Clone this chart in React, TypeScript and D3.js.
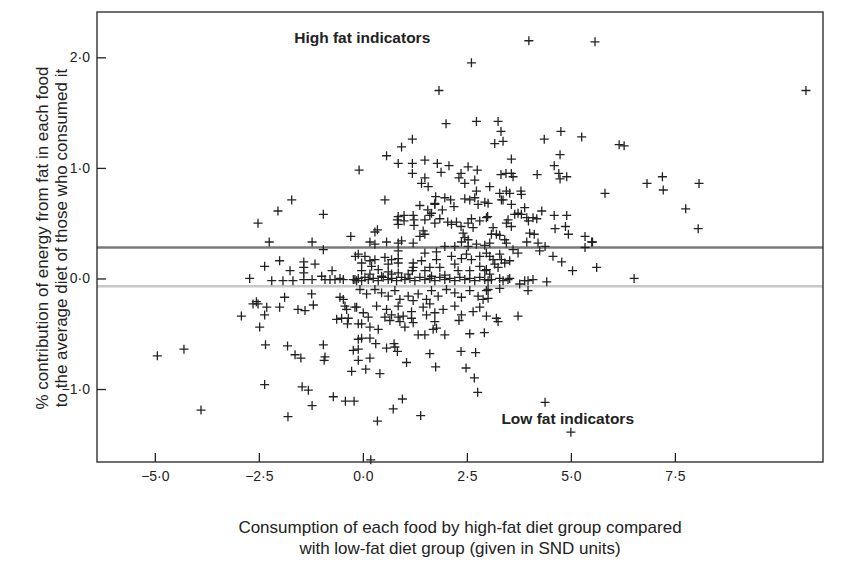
import { useRef, useEffect } from "react";
import * as d3 from "d3";

type Pt = [number, number];

// far points and outliers
const outerPoints: Pt[] = [
  [3.99, 2.15], [5.58, 2.14], [2.61, 1.95], [1.83, 1.7], [10.65, 1.7],
  [6.16, 1.21], [6.28, 1.2], [5.82, 0.77], [6.83, 0.86], [7.2, 0.92], [7.22, 0.8],
  [8.08, 0.86], [7.76, 0.63], [8.06, 0.45], [5.52, 0.33], [5.62, 0.1], [6.52, 0.0],
  [-4.94, -0.7], [-4.3, -0.64], [-3.89, -1.19], [4.38, -1.12], [5.0, -1.39],
  [-0.09, 0.98], [-1.71, 0.71], [0.19, -1.64],
];

// upper cloud (above ~0.6)
const upperPoints: Pt[] = [
  [2.0, 1.4], [2.73, 1.42], [1.19, 1.26], [0.93, 1.19], [0.57, 1.11], [0.85, 1.04],
  [1.19, 1.04], [1.19, 0.95], [1.49, 1.07], [1.79, 1.04], [2.07, 1.02], [1.88, 0.96],
  [2.53, 1.01], [2.75, 0.98], [2.36, 0.95], [2.31, 0.91], [2.45, 0.86], [2.69, 0.89],
  [2.73, 0.79], [1.49, 0.91], [1.41, 0.86], [1.57, 0.83], [0.53, 0.71], [1.75, 0.74],
  [1.97, 0.73], [2.11, 0.71], [2.45, 0.72], [2.57, 0.71], [2.69, 0.73], [1.73, 0.68],
  [3.25, 1.42], [3.32, 1.33], [3.17, 1.22], [3.37, 1.24], [4.36, 1.26], [4.76, 1.33],
  [5.26, 1.28], [3.57, 1.08], [4.74, 1.12], [4.6, 1.02], [3.32, 0.94], [3.44, 0.95],
  [3.57, 0.95], [3.61, 0.92], [4.19, 0.94], [4.71, 0.95], [4.74, 0.9], [4.9, 0.92],
  [3.05, 0.83], [3.29, 0.77], [3.45, 0.79], [3.53, 0.77], [3.8, 0.79], [3.81, 0.76],
  [3.37, 0.71], [3.01, 0.68], [3.33, 0.71], [3.57, 0.67], [3.89, 0.64],
  [1.37, 0.66], [1.73, 0.67], [1.56, 0.62], [1.65, 0.59], [1.61, 0.57], [1.91, 0.62],
  [2.19, 0.65], [2.77, 0.67], [2.93, 0.69], [-2.04, 0.61], [-0.95, 0.58],
];

// middle band (between ~0.6 and 0.0)
const middlePoints: Pt[] = [
  [-2.52, 0.5], [-0.29, 0.38], [-2.25, 0.33], [-1.22, 0.33], [-0.95, 0.26], [-0.18, 0.2],
  [-2.0, 0.16], [-2.36, 0.11], [-1.42, 0.15], [-1.15, 0.13], [-1.42, 0.1], [-1.42, 0.05],
  [-1.75, 0.07], [-0.74, 0.07],
  [3.0, 0.56], [3.65, 0.58], [3.73, 0.59], [3.81, 0.58], [3.94, 0.55], [3.98, 0.52],
  [4.09, 0.55], [4.18, 0.54], [4.3, 0.61], [3.49, 0.53], [3.45, 0.5], [3.57, 0.47],
  [4.6, 0.57], [4.9, 0.57], [4.62, 0.45], [4.87, 0.47], [4.94, 0.4], [3.13, 0.46],
  [3.09, 0.4], [3.21, 0.4], [3.29, 0.39], [4.01, 0.41], [4.12, 0.4], [5.34, 0.38],
  [5.5, 0.33], [5.34, 0.28], [3.41, 0.35], [3.45, 0.32], [3.05, 0.32], [3.94, 0.33],
  [4.21, 0.32], [4.38, 0.29], [3.61, 0.26], [3.73, 0.23], [4.25, 0.25], [4.57, 0.2],
  [4.78, 0.15], [5.04, 0.07], [3.05, 0.2], [3.29, 0.22], [3.33, 0.17], [3.13, 0.17],
  [3.17, 0.13], [3.41, 0.14], [3.53, 0.16], [2.97, 0.08], [3.25, 0.1], [3.05, 0.04],
  [0.85, 0.56], [0.99, 0.57], [0.83, 0.53], [0.99, 0.52], [0.85, 0.49], [1.21, 0.57],
  [1.23, 0.53], [1.23, 0.48], [1.49, 0.53], [1.85, 0.54], [1.73, 0.5], [2.13, 0.49],
  [2.04, 0.51], [2.25, 0.51], [2.36, 0.47], [2.53, 0.5], [2.65, 0.46], [2.81, 0.52],
  [2.61, 0.54], [2.97, 0.55], [0.35, 0.44], [0.29, 0.42], [1.45, 0.43], [1.49, 0.4],
  [1.37, 0.38], [2.41, 0.41], [2.45, 0.37], [2.53, 0.35], [2.37, 0.33], [0.17, 0.33],
  [0.57, 0.33], [0.85, 0.32], [0.93, 0.34], [1.21, 0.32], [0.29, 0.31], [1.97, 0.29],
  [2.21, 0.29], [2.53, 0.29], [2.73, 0.31], [2.93, 0.3],
  [-0.11, 0.22], [0.05, 0.2], [-0.03, 0.14], [0.17, 0.16], [0.21, 0.11], [0.37, 0.08],
  [0.29, 0.17], [0.53, 0.19], [0.69, 0.17], [0.85, 0.18], [0.61, 0.13], [0.85, 0.14],
  [0.85, 0.25], [1.49, 0.23], [1.77, 0.24], [1.41, 0.16], [1.21, 0.14], [1.21, 0.1],
  [1.19, 0.07], [1.49, 0.07], [1.61, 0.1], [1.77, 0.17], [1.85, 0.1], [2.13, 0.2],
  [2.21, 0.13], [2.37, 0.18], [2.49, 0.22], [2.61, 0.17], [2.81, 0.2], [2.97, 0.23],
  [2.29, 0.07], [2.57, 0.07], [2.81, 0.11], [2.93, 0.07],
  [0.69, 0.04], [1.09, 0.04], [1.65, 0.02], [1.97, 0.03], [-0.03, 0.07], [0.17, 0.04],
  [0.45, 0.02], [0.61, 0.06], [0.85, 0.05],
];

// the dense strip round zero
const zeroPoints: Pt[] = [
  [-2.72, 0.0], [-2.19, -0.02], [-1.92, -0.02], [-1.68, -0.02], [-1.42, -0.01],
  [-1.22, -0.01], [-0.99, 0.02], [-0.91, -0.01], [-0.79, -0.01], [-0.67, -0.01],
  [-0.55, 0.0], [-0.47, -0.01], [-0.23, -0.01], [-0.15, -0.02],
  [-0.19, -0.01], [-0.11, 0.0], [-0.03, -0.02], [0.05, 0.01], [0.13, -0.01], [0.25, 0.0],
  [0.37, -0.02], [0.49, 0.01], [0.61, -0.01], [0.69, 0.0], [0.81, -0.02], [0.93, 0.01],
  [1.01, -0.01], [1.13, 0.0], [1.25, -0.02], [1.37, 0.01], [1.49, -0.01], [1.61, 0.0],
  [1.73, -0.02], [1.85, 0.01], [1.97, -0.01], [2.09, 0.0], [2.21, -0.02], [2.33, 0.01],
  [2.45, -0.01], [2.57, 0.0], [2.69, -0.02], [2.81, 0.01], [2.93, -0.01],
  [3.09, -0.01], [3.01, -0.02], [3.29, 0.0], [3.37, -0.02], [3.49, -0.01], [3.53, 0.0],
  [3.77, -0.05], [3.89, -0.02], [3.97, -0.02], [4.09, -0.01], [4.42, -0.03],
];

// lower cloud (below zero)
const lowerPoints: Pt[] = [
  [3.01, -0.1], [3.29, -0.09], [3.97, -0.11], [3.01, -0.18],
  [-0.07, -0.1], [0.09, -0.14], [0.29, -0.1], [0.45, -0.13], [0.61, -0.16], [0.77, -0.11],
  [0.89, -0.19], [1.09, -0.16], [1.21, -0.2], [1.33, -0.14], [1.53, -0.19], [1.65, -0.11],
  [1.81, -0.16], [2.01, -0.1], [2.21, -0.13], [2.37, -0.17], [2.57, -0.11], [2.77, -0.16],
  [2.89, -0.19], [2.97, -0.11],
  [-0.15, -0.26], [0.01, -0.31], [0.33, -0.25], [0.57, -0.28], [0.69, -0.33], [0.85, -0.25],
  [0.97, -0.34], [1.17, -0.3], [1.45, -0.26], [1.53, -0.33], [1.61, -0.23], [1.73, -0.31],
  [1.93, -0.28], [2.21, -0.25], [2.37, -0.33], [2.65, -0.3], [2.81, -0.26], [2.97, -0.34],
  [-1.88, -0.17], [-1.23, -0.14], [-2.56, -0.21], [-2.64, -0.23], [-2.52, -0.23],
  [-2.31, -0.26], [-2.0, -0.26], [-0.55, -0.17], [-0.47, -0.19], [-1.19, -0.24],
  [-1.56, -0.28], [-1.39, -0.29], [-0.43, -0.25], [-0.39, -0.28], [-0.19, -0.26],
  [-2.92, -0.34], [-2.36, -0.33], [-0.51, -0.36], [-0.35, -0.36],
  [-2.48, -0.44], [-0.63, -0.37], [-0.37, -0.41], [-0.11, -0.41], [-2.34, -0.6],
  [-1.81, -0.61], [-0.95, -0.6], [-1.63, -0.69], [-1.49, -0.72], [-0.91, -0.71],
  [-0.93, -0.74], [-0.23, -0.65], [-0.11, -0.64], [-0.11, -0.74], [-0.11, -0.55],
  [-0.27, -0.84], [-2.36, -0.96], [-1.46, -0.98], [-1.31, -1.01], [-1.22, -1.15],
  [-0.71, -1.07], [-0.42, -1.11], [-0.21, -1.11], [-1.8, -1.25],
  [0.13, -0.35], [-0.03, -0.41], [0.17, -0.44], [0.37, -0.46], [0.53, -0.35], [0.65, -0.38],
  [0.85, -0.35], [0.89, -0.39], [1.17, -0.36], [1.21, -0.4], [1.01, -0.44], [1.73, -0.39],
  [1.77, -0.45], [1.69, -0.46], [1.33, -0.51], [1.49, -0.51], [1.97, -0.51], [2.31, -0.38],
  [2.57, -0.5], [2.92, -0.49], [-0.03, -0.54], [0.17, -0.54], [0.31, -0.59], [0.57, -0.63],
  [0.75, -0.59], [0.77, -0.62], [0.83, -0.66], [0.17, -0.72], [0.07, -0.82], [0.41, -0.86],
  [1.05, -0.76], [1.61, -0.68], [1.75, -0.8], [2.36, -0.66], [2.71, -0.67], [2.48, -0.81],
  [2.68, -0.9], [2.76, -1.03], [0.95, -1.09], [0.73, -1.18], [0.35, -1.29], [1.39, -1.24],
  [3.21, -0.36], [3.25, -0.39], [3.73, -0.34],
];

const refLines = [
  { value: 0.28, color: "#7a7a7a", width: 2.5 },
  { value: -0.07, color: "#c8c8c8", width: 2.5 },
];

const xTicks = [-5, -2.5, 0, 2.5, 5, 7.5];
const yTicks = [-1, 0, 1, 2];

const xLabel = [
  "Consumption of each food by high-fat diet group compared",
  "with low-fat diet group (given in SND units)",
];
const yLabel = [
  "% contribution of energy from fat in each food",
  "to the average diet of those who consumed it",
];

const fmt = (v: number) => d3.format(".1f")(v).replace(".", "·").replace("-", "−");

const App = () => {
  const svgRef = useRef<SVGSVGElement>(null);

  useEffect(() => {
    const svg = d3.select(svgRef.current);
    svg.selectAll("*").remove();

    const width = 853;
    const height = 564;
    const margin = { top: 12, right: 30, bottom: 102, left: 97 };
    const font = "'Liberation Sans', Arial, sans-serif";

    const x = d3
      .scaleLinear()
      .domain([-6.39, 11.06])
      .range([margin.left, width - margin.right]);
    const y = d3
      .scaleLinear()
      .domain([-1.66, 2.41])
      .range([height - margin.bottom, margin.top]);

    // reference lines
    refLines.forEach((r) => {
      svg
        .append("line")
        .attr("x1", margin.left)
        .attr("x2", width - margin.right)
        .attr("y1", y(r.value))
        .attr("y2", y(r.value))
        .attr("stroke", r.color)
        .attr("stroke-width", r.width);
    });

    // frame
    svg
      .append("rect")
      .attr("x", margin.left)
      .attr("y", margin.top)
      .attr("width", width - margin.left - margin.right)
      .attr("height", height - margin.top - margin.bottom)
      .attr("fill", "none")
      .attr("stroke", "#222")
      .attr("stroke-width", 1.3);

    // axes, ticks inward
    const xAxis = svg
      .append("g")
      .attr("transform", `translate(0,${height - margin.bottom})`)
      .call(d3.axisBottom(x).tickValues(xTicks).tickFormat(fmt).tickSizeInner(-9).tickSizeOuter(0).tickPadding(8));
    const yAxis = svg
      .append("g")
      .attr("transform", `translate(${margin.left},0)`)
      .call(d3.axisLeft(y).tickValues(yTicks).tickFormat(fmt).tickSizeInner(-9).tickSizeOuter(0).tickPadding(8));

    [xAxis, yAxis].forEach((g) => {
      g.select(".domain").remove();
      g.selectAll("line").attr("stroke", "#222").attr("stroke-width", 1.3);
      g.selectAll("text").attr("font-family", font).attr("font-size", 14).attr("fill", "#222");
    });
    xAxis.selectAll("text").attr("y", 6).attr("dy", "0.9em");
    yAxis.selectAll("text").attr("x", -7);

    // points as plus marks
    const all = [...outerPoints, ...upperPoints, ...middlePoints, ...zeroPoints, ...lowerPoints];
    const s = 4.5;
    svg
      .append("g")
      .selectAll("path")
      .data(all)
      .join("path")
      .attr("d", (d) => {
        const px = x(d[0]);
        const py = y(d[1]);
        return `M${px - s},${py}H${px + s}M${px},${py - s}V${py + s}`;
      })
      .attr("stroke", "#222")
      .attr("stroke-width", 1.3)
      .attr("fill", "none");

    // annotations
    const note = (text: string, vx: number, vy: number) =>
      svg
        .append("text")
        .attr("x", x(vx))
        .attr("y", y(vy))
        .attr("font-family", font)
        .attr("font-size", 15.5)
        .attr("font-weight", "bold")
        .attr("fill", "#222")
        .text(text);
    note("High fat indicators", -1.65, 2.13);
    note("Low fat indicators", 3.33, -1.32);

    // axis titles
    const xt = svg
      .append("text")
      .attr("text-anchor", "middle")
      .attr("font-family", font)
      .attr("font-size", 17)
      .attr("fill", "#222");
    xLabel.forEach((line, i) => {
      xt.append("tspan").attr("x", 460).attr("y", 533 + i * 21).text(line);
    });

    const yt = svg
      .append("text")
      .attr("text-anchor", "middle")
      .attr("font-family", font)
      .attr("font-size", 17)
      .attr("fill", "#222")
      .attr("transform", "translate(0,238) rotate(-90)");
    yLabel.forEach((line, i) => {
      yt.append("tspan").attr("x", 0).attr("y", 48 + i * 19).text(line);
    });
  }, []);

  return (
    <svg
      ref={svgRef}
      width={853}
      height={564}
      style={{ position: "absolute", left: 0, top: 0, background: "#fff" }}
    />
  );
};

export default App;
